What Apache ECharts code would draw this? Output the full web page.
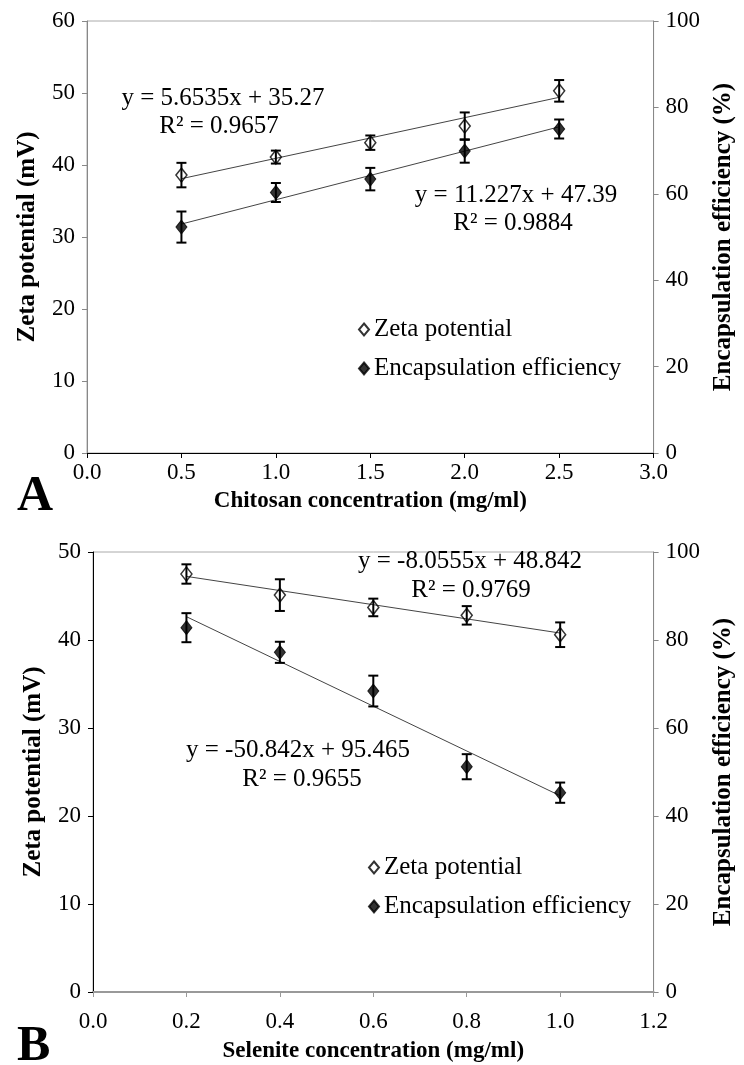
<!DOCTYPE html>
<html>
<head>
<meta charset="utf-8">
<script src="https://cdn.jsdelivr.net/npm/echarts@6/dist/echarts.min.js"></script>
<style>
html,body{margin:0;padding:0;background:#fff;}
#c{width:744px;height:1065px;}
</style>
</head>
<body>
<div id="c"></div>
<script>
// ---- Panel A data (chitosan concentration) ----
const xA = [0.5, 1.0, 1.5, 2.0, 2.5];
const zetaA = [38.6, 41.1, 43.1, 45.4, 50.3];
const zetaErrA = [1.7, 0.9, 1.0, 1.9, 1.5];
const eeA = [52.3, 60.3, 63.4, 69.9, 75.0];
const eeErrA = [3.6, 2.2, 2.6, 2.7, 2.2];
const trendXA = [0.5, 2.5];
const zetaTrendYA = [38.1, 49.4];
const eeTrendYA = [53.0, 75.5];

// ---- Panel B data (selenite concentration) ----
const xB = [0.2, 0.4, 0.6, 0.8, 1.0];
const zetaB = [47.5, 45.1, 43.7, 42.8, 40.6];
const zetaErrB = [1.1, 1.8, 1.0, 1.05, 1.4];
const eeB = [82.8, 77.2, 68.4, 51.2, 45.3];
const eeErrB = [3.3, 2.4, 3.5, 2.85, 2.3];
const trendXB = [0.2, 1.0];
const zetaTrendYB = [47.23, 40.79];
const eeTrendYB = [85.3, 44.6];

// ---- Text ----
const eqA = ['y = 5.6535x + 35.27', 'R\u00b2 = 0.9657', 'y = 11.227x + 47.39', 'R\u00b2 = 0.9884'];
const eqB = ['y = -8.0555x + 48.842', 'R\u00b2 = 0.9769', 'y = -50.842x + 95.465', 'R\u00b2 = 0.9655'];
const seriesNames = ['Zeta potential', 'Encapsulation efficiency'];

const FONT = '"Liberation Serif", "Times New Roman", serif';

const pairs = (xs, ys) => xs.map((x, i) => [x, ys[i]]);
const errs = (xs, ys, es) => xs.map((x, i) => [x, ys[i] - es[i], ys[i] + es[i]]);

function errorBar(params, api) {
  const lo = api.coord([api.value(0), api.value(1)]);
  const hi = api.coord([api.value(0), api.value(2)]);
  const hw = 5;
  const st = { stroke: '#000', lineWidth: 2 };
  return {
    type: 'group',
    children: [
      { type: 'line', shape: { x1: lo[0], y1: lo[1], x2: hi[0], y2: hi[1] }, style: st },
      { type: 'line', shape: { x1: lo[0] - hw, y1: lo[1], x2: lo[0] + hw, y2: lo[1] }, style: st },
      { type: 'line', shape: { x1: hi[0] - hw, y1: hi[1], x2: hi[0] + hw, y2: hi[1] }, style: st }
    ]
  };
}

const tickLabel = { fontFamily: FONT, fontSize: 23, color: '#000' };
const yNameStyle = { fontFamily: FONT, fontSize: 25, fontWeight: 'bold', color: '#000' };
const xNameStyle = { fontFamily: FONT, fontSize: 23, fontWeight: 'bold', color: '#000' };
const fmt1 = v => v.toFixed(1);

function yAx(gi, pos, max, interval, name, color, gap, margin) {
  return {
    type: 'value', gridIndex: gi, position: pos, min: 0, max: max, interval: interval,
    name: name, nameLocation: 'middle', nameRotate: 90, nameGap: gap, nameTextStyle: yNameStyle,
    axisLine: { show: true, lineStyle: { color: color, width: 1 } },
    axisTick: { show: true, length: 5, lineStyle: { color: color } },
    axisLabel: Object.assign({ margin: margin }, tickLabel),
    splitLine: { show: false }
  };
}
function xAx(gi, max, interval, name, color, width, margin, gap) {
  return {
    type: 'value', gridIndex: gi, min: 0, max: max, interval: interval,
    name: name, nameLocation: 'middle', nameGap: gap, nameTextStyle: xNameStyle,
    axisLine: { show: true, onZero: false, lineStyle: { color: color, width: width } },
    axisTick: { show: true, length: 5, lineStyle: { color: color } },
    axisLabel: Object.assign({ margin: margin, formatter: fmt1 }, tickLabel),
    splitLine: { show: false }
  };
}

const openDiamond = { color: 'rgba(255,255,255,0)', borderColor: '#000', borderWidth: 1.5 };
const fullDiamond = { color: '#000', borderColor: '#000', borderWidth: 1 };

function panelSeries(gi, xs, zeta, zErr, ee, eErr, tx, zT, eT) {
  const yl = gi * 2, yr = gi * 2 + 1;
  return [
    { type: 'line', name: 'trendZ' + gi, xAxisIndex: gi, yAxisIndex: yl, data: pairs(tx, zT),
      symbol: 'none', lineStyle: { color: '#444', width: 1 }, z: 1, silent: true },
    { type: 'line', name: 'trendE' + gi, xAxisIndex: gi, yAxisIndex: yr, data: pairs(tx, eT),
      symbol: 'none', lineStyle: { color: '#444', width: 1 }, z: 1, silent: true },
    { type: 'scatter', name: seriesNames[0], xAxisIndex: gi, yAxisIndex: yl, data: pairs(xs, zeta),
      symbol: 'diamond', symbolSize: [11, 14], itemStyle: openDiamond, z: 3 },
    { type: 'scatter', name: seriesNames[1], xAxisIndex: gi, yAxisIndex: yr, data: pairs(xs, ee),
      symbol: 'diamond', symbolSize: [11, 14], itemStyle: fullDiamond, z: 3 },
    { type: 'custom', name: 'errZ' + gi, xAxisIndex: gi, yAxisIndex: yl, data: errs(xs, zeta, zErr),
      renderItem: errorBar, encode: { x: 0, y: [1, 2] }, z: 4, silent: true },
    { type: 'custom', name: 'errE' + gi, xAxisIndex: gi, yAxisIndex: yr, data: errs(xs, ee, eErr),
      renderItem: errorBar, encode: { x: 0, y: [1, 2] }, z: 2, silent: true }
  ];
}

function txt(t, x, y) {
  return {
    type: 'text', x: x, y: y, z: 10,
    style: { text: t, font: '25px ' + FONT, fill: '#000', align: 'center', verticalAlign: 'middle',
             textAlign: 'center', textVerticalAlign: 'middle' }
  };
}

const legendCommon = {
  orient: 'vertical', data: seriesNames, itemWidth: 10, itemHeight: 12, itemGap: 14,
  textStyle: { fontFamily: FONT, fontSize: 25, color: '#000' },
  selectedMode: false
};

const chart = echarts.init(document.getElementById('c'), null, { renderer: 'canvas' });
chart.setOption({
  animation: false,
  backgroundColor: '#fff',
  grid: [
    { left: 87, right: 80, top: 21, height: 432, show: true, borderColor: '#aaa', borderWidth: 1, backgroundColor: 'transparent' },
    { left: 93, right: 80, top: 552, height: 440, show: true, borderColor: '#aaa', borderWidth: 1, backgroundColor: 'transparent' }
  ],
  xAxis: [
    xAx(0, 3, 0.5, 'Chitosan concentration (mg/ml)', '#000', 1, 8, 37),
    xAx(1, 1.2, 0.2, 'Selenite concentration (mg/ml)', '#999', 2, 18, 48)
  ],
  yAxis: [
    yAx(0, 'left', 60, 10, 'Zeta potential (mV)', '#888', 47, 12),
    yAx(0, 'right', 100, 20, 'Encapsulation efficiency (%)', '#888', 53, 12),
    yAx(1, 'left', 50, 10, 'Zeta potential (mV)', '#000', 47, 12),
    yAx(1, 'right', 100, 20, 'Encapsulation efficiency (%)', '#888', 53, 12)
  ],
  legend: [
    Object.assign({ left: 353, top: 312 }, legendCommon),
    Object.assign({ left: 363, top: 850 }, legendCommon)
  ],
  series: [].concat(
    panelSeries(0, xA, zetaA, zetaErrA, eeA, eeErrA, trendXA, zetaTrendYA, eeTrendYA),
    panelSeries(1, xB, zetaB, zetaErrB, eeB, eeErrB, trendXB, zetaTrendYB, eeTrendYB)
  ),
  graphic: [
    txt(eqA[0], 223, 98), txt(eqA[1], 219, 126), txt(eqA[2], 516, 195), txt(eqA[3], 513, 223),
    txt(eqB[0], 470, 561), txt(eqB[1], 471, 590), txt(eqB[2], 298, 750), txt(eqB[3], 302, 779),
    { type: 'text', left: 17, top: 472, z: 10, style: { text: 'A', font: 'bold 50px ' + FONT, fill: '#000' } },
    { type: 'text', left: 17, top: 1022, z: 10, style: { text: 'B', font: 'bold 50px ' + FONT, fill: '#000' } }
  ]
});
</script>
</body>
</html>
